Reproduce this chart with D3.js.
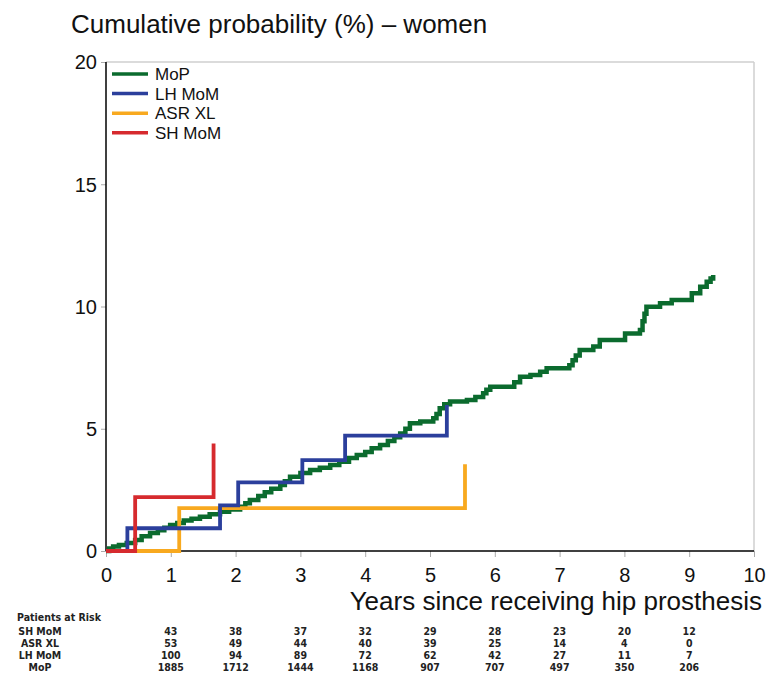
<!DOCTYPE html>
<html><head><meta charset="utf-8">
<script src="https://cdn.jsdelivr.net/npm/d3@7"></script>
<style>
body{margin:0;background:#fff;}
text{font-family:"Liberation Sans",Arial,Helvetica,sans-serif;}
</style></head>
<body><svg id="c" width="773" height="682"></svg>
<script>
const xTicks = [0,1,2,3,4,5,6,7,8,9,10];
const yTicks = [0,5,10,15,20];
const seriesNames = ["MoP","LH MoM","ASR XL","SH MoM"];
const seriesColors = ["#0b6b2e","#2b3f9c","#f8a91f","#d62a2e"];

const mop = [[0,0],[0.05,0.1],[0.11,0.18],[0.2,0.25],[0.32,0.33],[0.45,0.45],[0.55,0.6],[0.68,0.74],[0.8,0.85],[0.9,0.95],[0.99,1.06],[1.1,1.15],[1.2,1.25],[1.32,1.32],[1.45,1.4],[1.6,1.5],[1.76,1.61],[1.9,1.7],[2.07,1.81],[2.15,1.95],[2.22,2.09],[2.35,2.25],[2.45,2.4],[2.55,2.55],[2.69,2.7],[2.76,2.85],[2.84,3.04],[3.0,3.19],[3.15,3.31],[3.3,3.4],[3.46,3.52],[3.6,3.65],[3.75,3.8],[3.87,3.93],[4.0,4.05],[4.1,4.2],[4.23,4.34],[4.35,4.5],[4.45,4.65],[4.54,4.81],[4.62,5.0],[4.69,5.22],[4.85,5.3],[5.05,5.43],[5.1,5.6],[5.15,5.84],[5.22,6.0],[5.31,6.11],[5.57,6.18],[5.7,6.3],[5.82,6.45],[5.87,6.6],[5.93,6.72],[6.3,6.9],[6.39,7.13],[6.55,7.2],[6.7,7.33],[6.8,7.47],[7.15,7.6],[7.2,7.8],[7.25,8.0],[7.31,8.22],[7.52,8.36],[7.62,8.63],[8.01,8.9],[8.24,9.04],[8.28,9.4],[8.31,9.7],[8.34,9.99],[8.55,10.13],[8.73,10.27],[9.04,10.54],[9.17,10.81],[9.27,11.01],[9.33,11.15],[9.37,11.29]];
const lhMom = [[0,0],[0.33,0.93],[1.76,1.87],[2.04,2.81],[3.03,3.72],[3.69,4.72],[5.26,5.97]];
const asrXl = [[0,0],[1.13,1.75],[5.54,3.55]];
const shMom = [[0,0],[0.45,2.2],[1.66,4.4]];
const seriesData = [mop,lhMom,asrXl,shMom];

const riskYears = [1,2,3,4,5,6,7,8,9];
const riskLabels = ["SH MoM","ASR XL","LH MoM","MoP"];
const riskSH = [43,38,37,32,29,28,23,20,12];
const riskASR = [53,49,44,40,39,25,14,4,0];
const riskLH = [100,94,89,72,62,42,27,11,7];
const riskMoP = [1885,1712,1444,1168,907,707,497,350,206];
const riskRows = [riskSH,riskASR,riskLH,riskMoP];

const svg = d3.select("#c");
const L=106,R=754,T=62,B=551;
const x = d3.scaleLinear().domain([0,10]).range([L,R]);
const y = d3.scaleLinear().domain([0,20]).range([B,T]);

// title
svg.append("text").attr("x",71).attr("y",33).attr("font-size",26).attr("fill","#111")
  .text("Cumulative probability (%) \u2013 women");

// frame
svg.append("line").attr("x1",L).attr("x2",R).attr("y1",T).attr("y2",T).attr("stroke","#cfcfcf").attr("stroke-width",1.5);
svg.append("line").attr("x1",R).attr("x2",R).attr("y1",T).attr("y2",B).attr("stroke","#cfcfcf").attr("stroke-width",1.5);

// axes
const gx = svg.append("g").attr("transform",`translate(0,${B})`)
  .call(d3.axisBottom(x).tickValues(xTicks).tickSize(6).tickPadding(11));
gx.select(".domain").remove();
gx.selectAll("line").attr("stroke","#aaa").attr("stroke-width",1);
gx.selectAll("text").attr("font-size",20).attr("fill","#111").style("font-family",'"Liberation Sans",Arial,sans-serif');

const gy = svg.append("g").attr("transform",`translate(${L},0)`)
  .call(d3.axisLeft(y).tickValues(yTicks).tickSize(5).tickPadding(4));
gy.select(".domain").remove();
gy.selectAll("line").attr("stroke","#aaa").attr("stroke-width",1);
gy.selectAll("text").attr("font-size",20).attr("fill","#111").attr("dy","0.34em").style("font-family",'"Liberation Sans",Arial,sans-serif');

svg.append("line").attr("x1",L).attr("x2",L).attr("y1",T).attr("y2",B).attr("stroke","#000").attr("stroke-width",1.5);
svg.append("line").attr("x1",L).attr("x2",R).attr("y1",B).attr("y2",B).attr("stroke","#000").attr("stroke-width",1.5);

// curves
const line = d3.line().x(d=>x(d[0])).y(d=>y(d[1])).curve(d3.curveStepAfter);
const order=[0,2,1,3];
order.forEach(i=>{
  svg.append("path").datum(seriesData[i]).attr("d",line).attr("fill","none")
    .attr("stroke",seriesColors[i]).attr("stroke-width",i===0?4.5:3.8).attr("stroke-linejoin","miter");
});

// legend
seriesNames.forEach((n,i)=>{
  const yy = 74 + i*19.6;
  svg.append("line").attr("x1",112).attr("x2",148).attr("y1",yy).attr("y2",yy)
    .attr("stroke",seriesColors[i]).attr("stroke-width",3.5);
  svg.append("text").attr("x",155).attr("y",yy+6).attr("font-size",17).attr("fill","#111").text(n);
});

// x title
svg.append("text").attr("x",762).attr("y",610).attr("text-anchor","end").attr("font-size",26).attr("fill","#111")
  .text("Years since receiving hip prosthesis");

// risk table
const tf = '"DejaVu Sans Condensed","DejaVu Sans",sans-serif';
function tt(xx,yy,s,anchor){
  return svg.append("text").attr("x",xx).attr("y",yy).attr("text-anchor",anchor).attr("font-size",10.5)
    .attr("font-weight","bold").style("font-family",tf).attr("fill","#222").text(s);
}
tt(17,621,"Patients at Risk","start");
riskLabels.forEach((lab,r)=>{
  const yy = 634.5 + r*12.3;
  tt(40,yy,lab,"middle");
  riskRows[r].forEach((v,j)=>tt(x(riskYears[j]),yy,v,"middle"));
});
</script></body></html>
